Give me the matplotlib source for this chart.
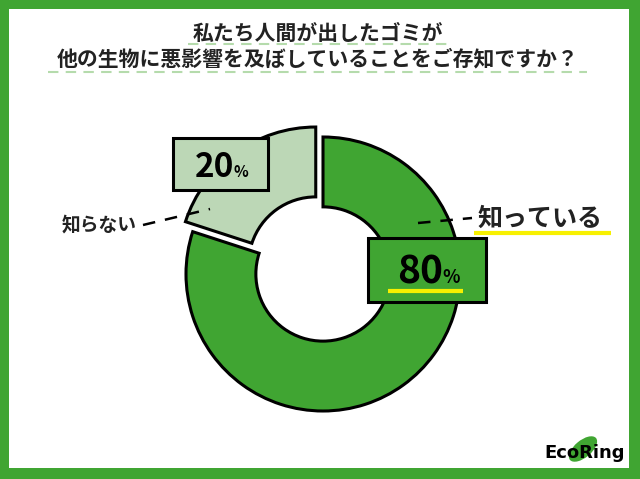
import matplotlib.pyplot as plt
from matplotlib.patches import Rectangle, Ellipse

plt.rcParams['font.family'] = ['Noto Sans CJK JP', 'DejaVu Sans']

# data
labels = ['知っている', '知らない']
values = [80, 20]
colors = ['#40a532', '#bcd7b6']
title_lines = ['私たち人間が出したゴミが', '他の生物に悪影響を及ぼしていることをご存知ですか？']

W, H = 640, 479
fig = plt.figure(figsize=(W / 100, H / 100), dpi=100, facecolor='#40a532')

# donut axes, centre (323, 274) px, radius 137 px
cx, cy, r = 323, 274, 137
half = 1.25 * r
ax_pie = fig.add_axes([(cx - half) / W, (H - cy - half) / H, 2 * half / W, 2 * half / H])
ax_pie.set_zorder(2)
ax_pie.patch.set_visible(False)
ax_pie.pie(values, colors=colors, startangle=90, counterclock=False,
           explode=[0, 0.09], radius=1,
           wedgeprops=dict(width=0.51, edgecolor='black', linewidth=2.2))
ax_pie.set_xlim(-1.25, 1.25)
ax_pie.set_ylim(-1.25, 1.25)
ax_pie.axis('off')

# background / overlay axes in pixel coordinates
bg = fig.add_axes([0, 0, 1, 1])
bg.set_zorder(1)
bg.set_xlim(0, W)
bg.set_ylim(H, 0)
bg.axis('off')
bg.add_patch(Rectangle((9, 9), 620, 459, fc='white', ec='none'))

ov = fig.add_axes([0, 0, 1, 1])
ov.set_zorder(3)
ov.patch.set_visible(False)
ov.set_xlim(0, W)
ov.set_ylim(H, 0)
ov.axis('off')

# title
txt_c = '#222222'
ov.text(317.5, 33, title_lines[0], ha='center', va='center', fontsize=15,
        fontweight='bold', color=txt_c)
ov.text(317.5, 59, title_lines[1], ha='center', va='center', fontsize=15,
        fontweight='bold', color=txt_c)
ov.plot([188, 447], [44, 44], color='#b5dbac', lw=1.5, dashes=(5, 3.5))
ov.plot([48, 587], [72, 72], color='#b5dbac', lw=1.5, dashes=(5, 3.5))

# leader lines
ov.plot([143, 210], [225, 209], color='black', lw=1.8, dashes=(5, 4))
ov.plot([418, 472], [223, 218], color='black', lw=1.8, dashes=(5, 4))

# category labels
ov.text(62, 225, labels[1], ha='left', va='center', fontsize=13.5,
        fontweight='bold', color=txt_c)
ov.text(478, 219, labels[0], ha='left', va='center', fontsize=18,
        fontweight='bold', color=txt_c)
ov.plot([474, 611], [233, 233], color='#f7f000', lw=3, solid_capstyle='butt')

# value boxes
ov.add_patch(Rectangle((173, 138), 95, 52, fc=colors[1], ec='black', lw=2.2))
ov.text(234, 177, str(values[1]), ha='right', va='baseline', fontsize=24,
        fontweight='bold', color='black')
ov.text(233, 177, '%', ha='left', va='baseline', fontsize=11,
        fontweight='bold', color='black')

ov.add_patch(Rectangle((368, 238), 118, 64, fc=colors[0], ec='black', lw=2.2))
ov.text(443, 283, str(values[0]), ha='right', va='baseline', fontsize=28,
        fontweight='bold', color='black')
ov.text(442, 283, '%', ha='left', va='baseline', fontsize=13,
        fontweight='bold', color='black')
ov.plot([388, 463], [291, 291], color='#f7f000', lw=3, solid_capstyle='butt')

# logo
ov.add_patch(Ellipse((583, 449), 34, 17, angle=-40, fc='#40a532', ec='none'))
ov.text(585, 453, 'EcoRing', ha='center', va='center', fontsize=13,
        fontweight='bold', color='black', family=['DejaVu Sans'])

fig.savefig('out.png', dpi=100, facecolor=fig.get_facecolor())
